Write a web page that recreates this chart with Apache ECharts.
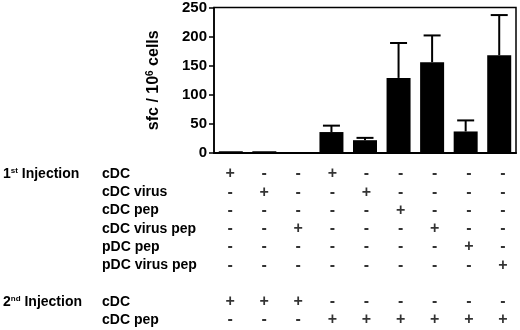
<!DOCTYPE html>
<html>
<head>
<meta charset="utf-8">
<script src="https://cdn.jsdelivr.net/npm/echarts@6/dist/echarts.min.js"></script>
<style>
  html, body { margin: 0; padding: 0; background: #fff; }
  #chart { width: 520px; height: 330px; }
</style>
</head>
<body>
<div id="chart"></div>
<script>
// groups (one bar per column of the table)
var groups = ['1', '2', '3', '4', '5', '6', '7', '8', '9'];
// sfc / 10^6 cells, mean and error (upper only)
var sfcMean = [3, 3, 1, 36, 22, 129, 156, 37, 168];
var sfcErr = [0, 0, 0, 11, 4, 60, 46, 19, 69];
var yMin = 0, yMax = 250, yStep = 50;

// table rows ('' = spacer between injections)
var rowLabels = ['cDC', 'cDC virus', 'cDC pep', 'cDC virus pep', 'pDC pep', 'pDC virus pep', '', 'cDC', 'cDC pep'];
var groupLabels = ['1st Injection', '', '', '', '', '', '', '2nd Injection', ''];
var inj1_cDC         = ['+', '-', '-', '+', '-', '-', '-', '-', '-'];
var inj1_cDCvirus    = ['-', '+', '-', '-', '+', '-', '-', '-', '-'];
var inj1_cDCpep      = ['-', '-', '-', '-', '-', '+', '-', '-', '-'];
var inj1_cDCviruspep = ['-', '-', '+', '-', '-', '-', '+', '-', '-'];
var inj1_pDCpep      = ['-', '-', '-', '-', '-', '-', '-', '+', '-'];
var inj1_pDCviruspep = ['-', '-', '-', '-', '-', '-', '-', '-', '+'];
var inj2_cDC         = ['+', '+', '+', '-', '-', '-', '-', '-', '-'];
var inj2_cDCpep      = ['-', '-', '-', '+', '+', '+', '+', '+', '+'];
var signRows = [inj1_cDC, inj1_cDCvirus, inj1_cDCpep, inj1_cDCviruspep, inj1_pDCpep, inj1_pDCviruspep, null, inj2_cDC, inj2_cDCpep];

var font = 'Liberation Sans, Arial, sans-serif';

var signData = [];
signRows.forEach(function (row, r) {
  if (!row) return;
  row.forEach(function (s, c) { signData.push([c, r]); });
});

var chart = echarts.init(document.getElementById('chart'));
var option = {
  backgroundColor: '#fff',
  animation: false,
  grid: [
    { left: 214, width: 302, top: 7.5, height: 145.5, show: true, borderColor: '#000', borderWidth: 1.5, backgroundColor: 'transparent' },
    { left: 213, width: 307, top: 174, height: 146 }
  ],
  xAxis: [
    {
      gridIndex: 0, type: 'category', data: groups,
      axisLine: { lineStyle: { color: '#000', width: 2 } },
      axisTick: { show: false }, axisLabel: { show: false }
    },
    { gridIndex: 1, type: 'category', data: groups, show: false }
  ],
  yAxis: [
    {
      gridIndex: 0, type: 'value', min: yMin, max: yMax, interval: yStep,
      name: 'sfc / 10{sup|6} cells', nameLocation: 'middle', nameGap: 51,
      nameTextStyle: {
        fontFamily: font, fontWeight: 'bold', fontSize: 16, color: '#000',
        rich: { sup: { fontFamily: font, fontWeight: 'bold', fontSize: 10, verticalAlign: 'bottom', padding: [0, 0, 8, 0] } }
      },
      axisLine: { show: true, lineStyle: { color: '#000', width: 1.5 } },
      axisTick: { show: true, length: 5, lineStyle: { color: '#000', width: 1.5 } },
      axisLabel: { fontFamily: font, fontWeight: 'bold', fontSize: 15, color: '#000', margin: 7 },
      splitLine: { show: false }
    },
    {
      gridIndex: 1, type: 'category', data: rowLabels, inverse: true, boundaryGap: false, position: 'left',
      axisLine: { show: false }, axisTick: { show: false }, splitLine: { show: false },
      axisLabel: { align: 'left', margin: 111, fontFamily: font, fontWeight: 'bold', fontSize: 14, color: '#000', interval: 0 }
    },
    {
      gridIndex: 1, type: 'category', data: groupLabels, inverse: true, boundaryGap: false, position: 'left',
      axisLine: { show: false }, axisTick: { show: false }, splitLine: { show: false },
      axisLabel: {
        align: 'left', margin: 210, interval: 0, color: '#000',
        fontFamily: font, fontWeight: 'bold', fontSize: 14,
        formatter: function (v) {
          var m = /^(\d)(st|nd|rd|th) (.*)$/.exec(v);
          return m ? '{n|' + m[1] + '}{s|' + m[2] + '}{n| ' + m[3] + '}' : '';
        },
        rich: {
          n: { fontFamily: font, fontWeight: 'bold', fontSize: 14, color: '#000' },
          s: { fontFamily: font, fontWeight: 'bold', fontSize: 8, color: '#000', verticalAlign: 'bottom', padding: [0, 0, 6, 0] }
        }
      }
    }
  ],
  series: [
    {
      type: 'bar', xAxisIndex: 0, yAxisIndex: 0, data: sfcMean,
      barWidth: 24, itemStyle: { color: '#000' }
    },
    {
      type: 'custom', xAxisIndex: 0, yAxisIndex: 0, z: 3,
      data: sfcMean.map(function (m, i) { return [i, m, sfcErr[i]]; }),
      renderItem: function (params, api) {
        var x = api.value(0), m = api.value(1), e = api.value(2);
        if (!e) return null;
        var base = api.coord([x, m]);
        var top = api.coord([x, m + e]);
        var half = 8.5;
        var st = { stroke: '#000', lineWidth: 2 };
        return {
          type: 'group',
          children: [
            { type: 'line', shape: { x1: base[0], y1: base[1], x2: top[0], y2: top[1] }, style: st },
            { type: 'line', shape: { x1: top[0] - half, y1: top[1], x2: top[0] + half, y2: top[1] }, style: st }
          ]
        };
      }
    },
    {
      type: 'scatter', xAxisIndex: 1, yAxisIndex: 1, data: signData,
      symbolSize: 1, itemStyle: { color: 'rgba(0,0,0,0)' },
      label: {
        show: true, position: 'inside', color: '#000',
        fontFamily: font, fontWeight: 'bold', fontSize: 16,
        formatter: function (p) { return signRows[p.value[1]][p.value[0]]; }
      }
    }
  ]
};
chart.setOption(option);
</script>
</body>
</html>
